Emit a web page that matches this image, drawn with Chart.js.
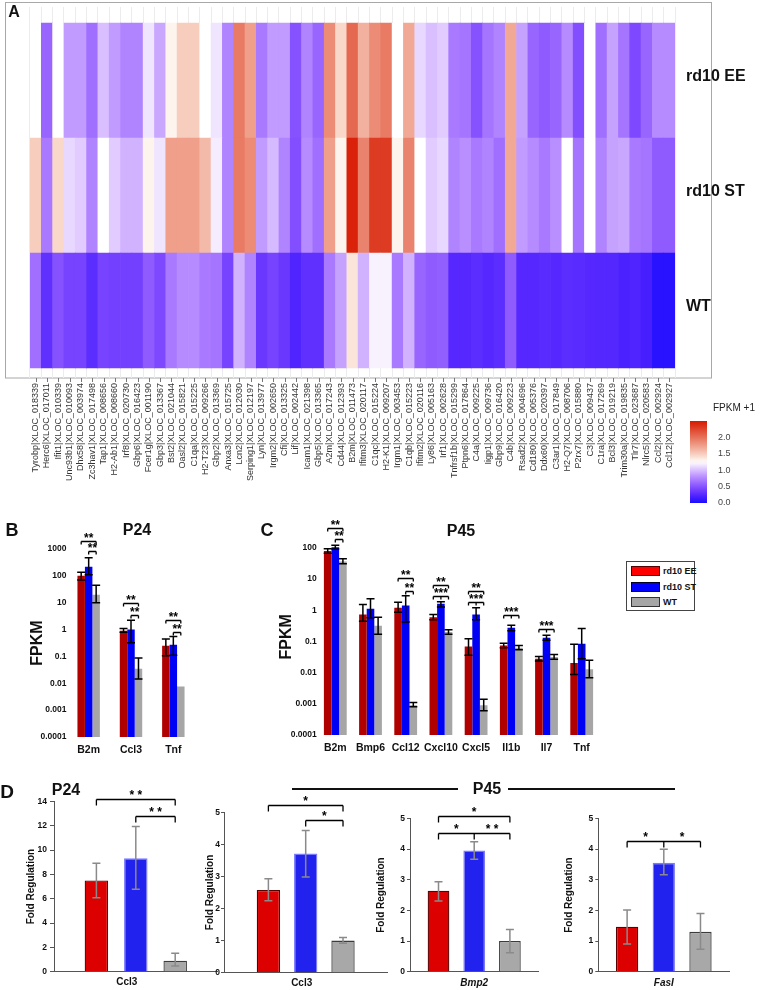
<!DOCTYPE html>
<html>
<head>
<meta charset="utf-8">
<script src="https://cdn.jsdelivr.net/npm/chart.js@4.4.1/dist/chart.umd.min.js"></script>
<style>
  body { margin: 0; background: #fff; width: 760px; height: 990px; position: relative; overflow: hidden; font-family: Arial, "Liberation Sans", sans-serif; }
  canvas { position: absolute; }
  .t { position: absolute; font-weight: bold; white-space: nowrap; color: #111; line-height: 1; }
  .c { transform: translate(-50%, -50%); }
  .sw { position: absolute; box-sizing: border-box; }
</style>
</head>
<body>

<canvas id="heat" width="760" height="500" style="left:0;top:0"></canvas>
<canvas id="cbar" width="100" height="115" style="left:660px;top:400px"></canvas>
<canvas id="chartB" width="250" height="240" style="left:0;top:525px"></canvas>
<canvas id="chartC" width="360" height="245" style="left:250px;top:520px"></canvas>
<canvas id="d0" width="222" height="210" style="left:0;top:780px"></canvas>
<canvas id="d1" width="200" height="210" style="left:190px;top:780px"></canvas>
<canvas id="d2" width="172" height="210" style="left:370px;top:780px"></canvas>
<canvas id="d3" width="180" height="210" style="left:555px;top:780px"></canvas>

<div class="t c" style="left:14px;top:12px;font-size:16px">A</div>
<div class="t" style="left:713px;top:403px;font-size:10px;font-weight:normal;color:#222">FPKM +1</div>
<div class="t c" style="left:12px;top:530px;font-size:18px">B</div>
<div class="t c" style="left:137px;top:530px;font-size:16px">P24</div>
<div class="t c" style="left:267px;top:530px;font-size:18px">C</div>
<div class="t c" style="left:461px;top:531px;font-size:16px">P45</div>
<div class="t c" style="left:7px;top:791px;font-size:19px">D</div>
<div class="t c" style="left:66px;top:790px;font-size:16px">P24</div>
<div class="t c" style="left:487px;top:789px;font-size:16px">P45</div>
<div style="position:absolute;left:292px;top:788px;width:166px;height:2px;background:#111"></div>
<div style="position:absolute;left:508px;top:788px;width:167px;height:2px;background:#111"></div>

<!-- legend for panel C -->
<div style="position:absolute;left:626px;top:561px;width:69px;height:50px;border:1px solid #444;box-sizing:border-box"></div>
<div class="sw" style="left:631px;top:566px;width:29px;height:10px;background:#ff0000;border:1px solid #500"></div>
<div class="sw" style="left:631px;top:582px;width:29px;height:10px;background:#0000ff;border:1px solid #002"></div>
<div class="sw" style="left:631px;top:597px;width:29px;height:10px;background:#a6a6a6;border:1px solid #333"></div>
<div class="t" style="left:663px;top:567px;font-size:9px">rd10 EE</div>
<div class="t" style="left:663px;top:583px;font-size:9px">rd10 ST</div>
<div class="t" style="left:663px;top:598px;font-size:9px">WT</div>

<script>
// ---- panel A: heatmap (FPKM +1 per gene) ----
const genes = [
  'Tyrobp|XLOC_018339', 'Herc6|XLOC_017011', 'Ifit1|XLOC_010339', 'Unc93b1|XLOC_010093', 'Dhx58|XLOC_003974',
  'Zc3hav1|XLOC_017498', 'Tap1|XLOC_008656', 'H2-Ab1|XLOC_008660', 'Irf8|XLOC_020730', 'Gbp6|XLOC_016423',
  'Fcer1g|XLOC_001190', 'Gbp3|XLOC_013367', 'Bst2|XLOC_021044', 'Oasl2|XLOC_015821', 'C1qa|XLOC_015225',
  'H2-T23|XLOC_009266', 'Gbp2|XLOC_013369', 'Anxa3|XLOC_015725', 'Lcn2|XLOC_012030', 'Serping1|XLOC_012197',
  'Lyn|XLOC_013977', 'Irgm2|XLOC_002650', 'Cfi|XLOC_013325', 'Lif|XLOC_002442', 'Icam1|XLOC_021398',
  'Gbp5|XLOC_013365', 'A2m|XLOC_017243', 'Cd44|XLOC_012393', 'B2m|XLOC_011473', 'Ifitm3|XLOC_020117',
  'C1qc|XLOC_015224', 'H2-K1|XLOC_009207', 'Irgm1|XLOC_003453', 'C1qb|XLOC_015223', 'Ifitm2|XLOC_020116',
  'Ly86|XLOC_005163', 'Irf1|XLOC_002628', 'Tnfrsf1b|XLOC_015299', 'Ptpn6|XLOC_017864', 'C4a|XLOC_009225',
  'Iigp1|XLOC_009736', 'Gbp9|XLOC_016420', 'C4b|XLOC_009223', 'Rsad2|XLOC_004696', 'Cd180|XLOC_005376',
  'Ddx60|XLOC_020397', 'C3ar1|XLOC_017849', 'H2-Q7|XLOC_008706', 'P2rx7|XLOC_015880', 'C3|XLOC_009437',
  'C1ra|XLOC_017269', 'Bcl3|XLOC_019219', 'Trim30a|XLOC_019835', 'Tlr7|XLOC_023687', 'Nlrc5|XLOC_020583',
  'Ccl2|XLOC_002924', 'Ccl12|XLOC_002927'
];
const heatEE = [1.25, 0.6, 1.25, 0.85, 0.85, 0.65, 1.0, 0.85, 0.75, 0.75, 1.15, 0.9, 1.3, 1.5, 1.5, 1.25, 1.15, 0.75, 1.95, 1.75,
  0.7, 0.85, 0.85, 0.5, 0.75, 0.6, 1.85, 1.45, 2.05, 1.65, 1.85, 1.95, 1.25, 1.7, 1.1, 1.0, 1.05, 0.7, 0.68, 0.5,
  0.68, 0.75, 1.7, 0.88, 0.6, 0.55, 0.6, 0.78, 0.48, 1.25, 0.65, 0.88, 0.68, 0.45, 0.6, 0.78, 0.78];
const heatST = [1.5, 0.7, 1.45, 1.1, 1.05, 0.75, 1.25, 1.05, 0.95, 0.95, 1.3, 1.15, 1.75, 1.75, 1.75, 1.6, 1.18, 0.75, 1.95, 1.85,
  0.85, 0.98, 0.75, 0.48, 0.78, 0.65, 1.75, 1.3, 2.45, 1.9, 2.3, 2.3, 1.3, 1.9, 1.25, 1.05, 1.1, 0.75, 0.8, 0.7,
  0.75, 0.65, 1.7, 0.85, 0.78, 0.7, 0.8, 1.25, 0.68, 1.25, 0.75, 0.88, 0.9, 0.7, 0.68, 0.55, 0.55];
const heatWT = [0.65, 0.3, 0.5, 0.42, 0.42, 0.28, 0.42, 0.4, 0.4, 0.4, 0.55, 0.45, 0.7, 0.78, 0.78, 0.7, 0.68, 0.42, 0.95, 0.75,
  0.35, 0.42, 0.35, 0.22, 0.3, 0.3, 0.7, 0.88, 1.38, 0.95, 1.2, 1.2, 0.7, 0.95, 0.6, 0.55, 0.57, 0.25, 0.25, 0.28,
  0.25, 0.28, 0.55, 0.25, 0.25, 0.27, 0.25, 0.28, 0.27, 0.25, 0.24, 0.24, 0.2, 0.22, 0.18, 0.05, 0.05];
const rowNames = ['WT', 'rd10 ST', 'rd10 EE'];   // bottom to top
const cbTicks = [0, 0.5, 1.0, 1.5, 2.0];
const HEAT_MID = 1.25, HEAT_MAX = 2.5;

// ---- panel B: P24 FPKM ----
const groupsB = ['B2m', 'Ccl3', 'Tnf'];
const bEE = [100, 0.9, 0.25];
const bST = [220, 1.0, 0.27];
const bWT = [20, 0.035, 0.0076];
const bEEerr = [[70, 135], [0.8, 1.1], [0.105, 0.45]];
const bSTerr = [[110, 470], [0.32, 2.2], [0.11, 0.55]];
const bWTerr = [[10, 45], [0.0145, 0.088], null];
const ticksB = [0.0001, 0.001, 0.01, 0.1, 1, 10, 100, 1000];

// ---- panel C: P45 FPKM ----
const groupsC = ['B2m', 'Bmp6', 'Ccl12', 'Cxcl10', 'Cxcl5', 'Il1b', 'Il7', 'Tnf'];
const cEE = [80, 0.74, 1.2, 0.6, 0.069, 0.075, 0.028, 0.0204];
const cST = [105, 1.12, 1.42, 1.62, 0.74, 0.275, 0.132, 0.085];
const cWT = [37, 0.32, 0.0009, 0.2, 0.0009, 0.063, 0.0317, 0.0129];
const cEEerr = [[68, 95], [0.45, 1.53], [0.87, 1.82], [0.5, 0.73], [0.036, 0.123], [0.063, 0.088], [0.0235, 0.033], [0.0087, 0.081]];
const cSTerr = [[92, 122], [0.58, 2.35], [0.42, 2.96], [1.27, 1.9], [0.5, 1.2], [0.22, 0.33], [0.11, 0.16], [0.028, 0.26]];
const cWTerr = [[31, 45], [0.17, 0.6], [0.0008, 0.0011], [0.17, 0.24], [0.0006, 0.0014], [0.054, 0.075], [0.027, 0.038], [0.0069, 0.025]];
const ticksC = [0.0001, 0.001, 0.01, 0.1, 1, 10, 100];

// ---- panel D: fold regulation ----
const dLabels = ['Ccl3', 'Ccl3', 'Bmp2', 'FasI'];
const dEE = [7.5, 2.58, 2.64, 1.47];
const dST = [9.33, 3.71, 3.95, 3.55];
const dWT = [0.9, 1.0, 1.0, 1.3];
const dEEerr = [[6.09, 8.92], [2.24, 2.93], [2.31, 2.93], [0.9, 2.01]];
const dSTerr = [[6.78, 11.95], [2.98, 4.43], [3.67, 4.24], [3.16, 3.99]];
const dWTerr = [[0.47, 1.51], [0.92, 1.1], [0.62, 1.38], [0.73, 1.9]];
const dMax = [14, 5, 5, 5];
const dStep = [2, 1, 1, 1];

// significance brackets: dataset indices joined, height in data units
const sigB = [
  { cat: 0, pts: [0, 2], y: 1940, text: ['**'] },
  { cat: 0, pts: [1, 2], y: 820, text: ['**'] },
  { cat: 1, pts: [0, 2], y: 10, text: ['**'] },
  { cat: 1, pts: [1, 2], y: 3.56, text: ['**'] },
  { cat: 2, pts: [0, 2], y: 2.32, text: ['**'] },
  { cat: 2, pts: [1, 2], y: 0.83, text: ['**'] }
];
const sigC = [
  { cat: 0, pts: [0, 2], y: 452, text: ['**'] },
  { cat: 0, pts: [1, 2], y: 200, text: ['**'] },
  { cat: 2, pts: [0, 2], y: 11.2, text: ['**'] },
  { cat: 2, pts: [1, 2], y: 4.3, text: ['**'] },
  { cat: 3, pts: [0, 2], y: 6.7, text: ['**'] },
  { cat: 3, pts: [0, 1, 2], y: 2.82, text: ['***'] },
  { cat: 4, pts: [0, 2], y: 4.3, text: ['**'] },
  { cat: 4, pts: [0, 1, 2], y: 1.9, text: ['***'] },
  { cat: 5, pts: [0, 1, 2], y: 0.73, text: ['***'] },
  { cat: 6, pts: [0, 1, 2], y: 0.244, text: ['***'] }
];
const sigD = [
  [{ pts: [0, 2], y: 14.18, text: ['* *'] }, { pts: [1, 2], y: 12.83, text: ['* *'] }],
  [{ pts: [0, 2], y: 5.22, text: ['*'] }, { pts: [1, 2], y: 4.76, text: ['*'] }],
  [{ pts: [0, 2], y: 5.08, text: ['*'] }, { pts: [0, 1, 2], y: 4.53, text: ['*', '* *'] }],
  [{ pts: [0, 1, 2], y: 4.27, text: ['*', '*'] }]
];

Chart.defaults.font.family = 'Arial, "Liberation Sans", sans-serif';
Chart.defaults.color = '#111';
Chart.defaults.animation = false;
Chart.defaults.responsive = false;
Chart.defaults.devicePixelRatio = 1;
Chart.defaults.plugins.legend.display = false;
Chart.defaults.plugins.tooltip.enabled = false;

// blue -> white -> red, like the colour key
function heatColor(v) {
  let r, g, b;
  if (v <= HEAT_MID) {
    const t = Math.max(0, v / HEAT_MID);
    r = 22 + 233 * Math.pow(t, 0.8);
    g = 15 + 240 * Math.pow(t, 1.4);
    b = 255;
  } else {
    const t = Math.min(1, (v - HEAT_MID) / (HEAT_MAX - HEAT_MID));
    r = 255 - 40 * t;
    g = 255 - 230 * Math.pow(t, 0.95);
    b = 255 - 255 * Math.pow(t, 0.85);
  }
  return `rgb(${Math.round(r)},${Math.round(g)},${Math.round(b)})`;
}

const fixedTicks = list => scale => { scale.ticks = list.map(v => ({ value: v })); };

const framePlugin = {
  id: 'frame',
  beforeDraw(chart) {
    const c = chart.ctx, a = chart.chartArea;
    c.save();
    c.strokeStyle = '#a8a8a8';
    c.lineWidth = 1;
    c.strokeRect(5.5, 2.5, a.right + 36 - 5, a.bottom - 2.5);
    c.restore();
  },
  afterDraw(chart) {
    const c = chart.ctx, x = chart.scales.x, y = chart.scales.y, a = chart.chartArea;
    c.save();
    c.strokeStyle = '#777';
    c.lineWidth = 1;
    c.beginPath();
    genes.forEach((g, i) => {
      const px = Math.round(x.getPixelForTick(i)) + 0.5;
      c.moveTo(px, a.bottom);
      c.lineTo(px, a.bottom + 4);
    });
    c.stroke();
    // row names beside the rows
    c.fillStyle = '#111';
    c.font = 'bold 16px Arial, "Liberation Sans", sans-serif';
    c.textAlign = 'left';
    c.textBaseline = 'middle';
    rowNames.forEach((n, i) => c.fillText(n, a.right + 11, y.getPixelForValue(i + 0.5) - 4));
    c.restore();
  }
};

const errorBars = (color, cap) => ({
  id: 'errorBars',
  afterDatasetsDraw(chart) {
    const ctx = chart.ctx, ys = chart.scales.y;
    ctx.save();
    ctx.strokeStyle = color;
    ctx.lineWidth = 1.5;
    chart.data.datasets.forEach((ds, di) => {
      if (!ds.errors) return;
      chart.getDatasetMeta(di).data.forEach((bar, i) => {
        const e = ds.errors[i];
        if (!e) return;
        const lo = ys.getPixelForValue(e[0]), hi = ys.getPixelForValue(e[1]);
        ctx.beginPath();
        ctx.moveTo(bar.x, lo); ctx.lineTo(bar.x, hi);
        ctx.moveTo(bar.x - cap, lo); ctx.lineTo(bar.x + cap, lo);
        ctx.moveTo(bar.x - cap, hi); ctx.lineTo(bar.x + cap, hi);
        ctx.stroke();
      });
    });
    ctx.restore();
  }
});

const brackets = (items, font, tick, dy) => ({
  id: 'brackets',
  afterDraw(chart) {
    const ctx = chart.ctx, ys = chart.scales.y;
    ctx.save();
    ctx.strokeStyle = '#000';
    ctx.fillStyle = '#000';
    ctx.lineWidth = 1.3;
    ctx.font = font;
    ctx.textAlign = 'center';
    ctx.textBaseline = 'middle';
    items.forEach(b => {
      const cat = b.cat || 0;
      const xs = b.pts.map(d => chart.getDatasetMeta(d).data[cat].x);
      const y = Math.round(ys.getPixelForValue(b.y)) + 0.5;
      ctx.beginPath();
      ctx.moveTo(xs[0], y);
      ctx.lineTo(xs[xs.length - 1], y);
      xs.forEach(x => { ctx.moveTo(x, y); ctx.lineTo(x, y + tick); });
      ctx.stroke();
      if (b.text.length === 1) {
        const tx = xs.length === 3 ? xs[1] : (xs[0] + xs[1]) / 2;
        ctx.fillText(b.text[0], tx, y + dy);
      } else {
        b.text.forEach((t, k) => ctx.fillText(t, (xs[k] + xs[k + 1]) / 2, y + dy));
      }
    });
    ctx.restore();
  }
});

// ---------- heatmap ----------
new Chart(document.getElementById('heat'), {
  type: 'bar',
  data: {
    labels: genes,
    datasets: [
      // each cell is one unit tall, the colour carries the value
      { label: 'WT', data: heatWT.map(() => 1), backgroundColor: heatWT.map(heatColor) },
      { label: 'rd10 ST', data: heatST.map(() => 1), backgroundColor: heatST.map(heatColor) },
      { label: 'rd10 EE', data: heatEE.map(() => 1), backgroundColor: heatEE.map(heatColor) }
    ]
  },
  options: {
    layout: { padding: { left: 30, top: 7, right: 85, bottom: 0 } },
    datasets: { bar: { barPercentage: 1, categoryPercentage: 1, borderWidth: 0 } },
    scales: {
      x: {
        stacked: true,
        grid: { offset: true, color: '#ececec', drawTicks: false },
        border: { display: false },
        ticks: { autoSkip: false, minRotation: 90, maxRotation: 90, padding: 5, font: { size: 9 }, color: '#333' },
        afterFit(s) { s.height = 122; }
      },
      y: { stacked: true, display: false, min: -0.087, max: 3.139 }
    }
  },
  plugins: [framePlugin]
});

// ---------- colour key ----------
new Chart(document.getElementById('cbar'), {
  type: 'bar',
  data: {
    labels: ['FPKM +1'],
    datasets: [{
      data: [[0, HEAT_MAX]],
      borderWidth: 0,
      backgroundColor: c => {
        const ca = c.chart.chartArea;
        if (!ca) return '#fff';
        const ys = c.chart.scales.y;
        const g = c.chart.ctx.createLinearGradient(0, ys.getPixelForValue(0), 0, ys.getPixelForValue(HEAT_MAX));
        for (let k = 0; k <= 25; k++) g.addColorStop(k / 25, heatColor(HEAT_MAX * k / 25));
        return g;
      }
    }]
  },
  options: {
    layout: { padding: { left: 30, top: 21, bottom: 12, right: 0 } },
    datasets: { bar: { barPercentage: 1, categoryPercentage: 1 } },
    scales: {
      x: { display: false },
      y: {
        position: 'right', min: 0, max: HEAT_MAX,
        afterBuildTicks: fixedTicks(cbTicks),
        grid: { display: false }, border: { display: false },
        ticks: { callback: v => v.toFixed(1), padding: 3, font: { size: 9 }, color: '#444' },
        afterFit(s) { s.width = 53; }
      }
    }
  }
});

// ---------- B and C: log FPKM ----------
function fpkmChart(id, groups, ee, st, wt, eeErr, stErr, wtErr, ticks, max, geo, sig) {
  new Chart(document.getElementById(id), {
    type: 'bar',
    data: {
      labels: groups,
      datasets: [
        { label: 'rd10 EE', data: ee, errors: eeErr, backgroundColor: '#b00000' },
        { label: 'rd10 ST', data: st, errors: stErr, backgroundColor: '#0000f4' },
        { label: 'WT', data: wt, errors: wtErr, backgroundColor: '#a6a6a6' }
      ]
    },
    options: {
      layout: { padding: { left: 0, top: geo.top, right: geo.right, bottom: 0 } },
      datasets: { bar: { barPercentage: 1, categoryPercentage: geo.cat, borderWidth: 0 } },
      scales: {
        x: {
          grid: { display: false, drawTicks: false }, border: { display: false },
          ticks: { autoSkip: false, minRotation: 0, maxRotation: 0, padding: 7, font: { size: 10.5, weight: 'bold' }, color: '#111' },
          afterFit(s) { s.height = geo.xh; }
        },
        y: {
          type: 'logarithmic', min: 0.0001, max: max,
          afterBuildTicks: fixedTicks(ticks),
          grid: { display: false, drawTicks: false }, border: { display: false },
          ticks: { padding: 1, font: { size: 8.5, weight: 'bold' }, color: '#111', callback: v => String(v) },
          title: { display: true, text: 'FPKM', font: { size: 16, weight: 'bold' }, color: '#111', padding: { top: geo.tp, bottom: 0 } },
          afterFit(s) { s.width = geo.yw; }
        }
      }
    },
    plugins: [errorBars('#000', 4), brackets(sig, 'bold 12px Arial', 3, -3)]
  });
}

fpkmChart('chartB', groupsB, bEE, bST, bWT, bEEerr, bSTerr, bWTerr, ticksB, 1000,
  { top: 24, right: 55.5, xh: 28, yw: 67.5, tp: 28.4, cat: 0.53 }, sigB);
fpkmChart('chartC', groupsC, cEE, cST, cWT, cEEerr, cSTerr, cWTerr, ticksC, 200,
  { top: 18.6, right: 10.7, xh: 30, yw: 67.7, tp: 27.1, cat: 0.648 }, sigC);

// ---------- D: fold regulation ----------
const dGeo = [
  { yw: 54, right: 4.4, top: 21.5, xh: 18.3, tl: 4, pad: 3, tp: 25.7, cat: 0.7225, bar: 0.596, lo: -9, lp: 5, italic: false },
  { yw: 34, right: 2.6, top: 32.2, xh: 17.3, tl: 3, pad: 1, tp: 14.7, cat: 0.685, bar: 0.625, lo: -4, lp: 5, italic: false },
  { yw: 40, right: 3.6, top: 38.4, xh: 18.3, tl: 3, pad: 2, tp: 5.7, cat: 0.834, bar: 0.608, lo: 0, lp: 6, italic: true },
  { yw: 43.3, right: 5.7, top: 38.4, xh: 18.3, tl: 3, pad: 2, tp: 8.3, cat: 0.84, bar: 0.608, lo: 0, lp: 6, italic: true }
];

dLabels.forEach((lab, i) => {
  const g = dGeo[i];
  new Chart(document.getElementById('d' + i), {
    type: 'bar',
    data: {
      labels: [lab],
      datasets: [
        { label: 'rd10 EE', data: [dEE[i]], errors: [dEEerr[i]], backgroundColor: '#dc0000', borderColor: '#5a0000' },
        { label: 'rd10 ST', data: [dST[i]], errors: [dSTerr[i]], backgroundColor: '#2222ee', borderColor: '#7a7aff' },
        { label: 'WT', data: [dWT[i]], errors: [dWTerr[i]], backgroundColor: '#a8a8a8', borderColor: '#3c3c3c' }
      ]
    },
    options: {
      layout: { padding: { left: 0, top: g.top, right: g.right, bottom: 0 } },
      datasets: { bar: { barPercentage: g.bar, categoryPercentage: g.cat, borderWidth: 1.3 } },
      scales: {
        x: {
          grid: { display: false, drawTicks: false },
          border: { display: true, color: '#555', width: 1 },
          ticks: { padding: g.lp, labelOffset: g.lo, font: { size: 10, weight: 'bold', style: g.italic ? 'italic' : 'normal' }, color: '#111' },
          afterFit(s) { s.height = g.xh; }
        },
        y: {
          min: 0, max: dMax[i],
          ticks: { stepSize: dStep[i], padding: g.pad, font: { size: 8.5, weight: 'bold' }, color: '#111' },
          grid: { display: true, drawOnChartArea: false, drawTicks: true, tickLength: g.tl, color: '#555' },
          border: { display: true, color: '#555', width: 1 },
          title: { display: true, text: 'Fold Regulation', font: { size: 10, weight: 'bold' }, color: '#111', padding: { top: g.tp, bottom: 0 } },
          afterFit(s) { s.width = g.yw; }
        }
      }
    },
    plugins: [errorBars('#8a8a8a', 4), brackets(sigD[i], 'bold 12px Arial', 6, -3.5)]
  });
});
</script>
</body>
</html>
